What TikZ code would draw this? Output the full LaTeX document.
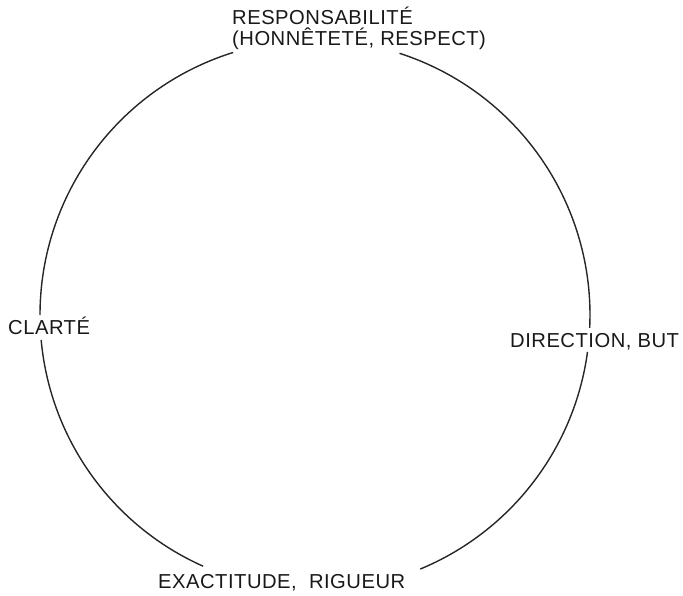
\documentclass[tikz,border=0pt]{standalone}
\usepackage{fontspec}
\setmainfont{Liberation Sans}[LetterSpace=2.5]
\begin{document}
\begin{tikzpicture}[x=1pt,y=1pt,
  lbl/.style={inner sep=0pt, anchor=base west, font=\fontsize{20.2}{21.5}\selectfont, text=black!90},
  ring/.style={line width=1.4pt, draw=black!85}]
\useasboundingbox (0,0) rectangle (683,595);
\coordinate (c) at (315,280);
\draw[ring] ([shift={(357.3:275)}]c) arc[start angle=357.3, end angle=432.1, radius=275];
\draw[ring] ([shift={(107.3:275)}]c) arc[start angle=107.3, end angle=180, radius=275];
\draw[ring] ([shift={(185.2:275)}]c) arc[start angle=185.2, end angle=246, radius=275];
\draw[ring] ([shift={(292.5:275)}]c) arc[start angle=292.5, end angle=352.3, radius=275];
\node[lbl, align=left] (resp) at (232,549) {RESPONSABILITÉ\\(HONNÊTETÉ, RESPECT)};
\node[lbl] (clarte) at (8,260) {CLARTÉ};
\node[lbl] (dir) at (510,247) {DIRECTION, BUT};
\node[lbl] (exact) at (158,7) {EXACTITUDE,\ \ RIGUEUR};
\end{tikzpicture}
\end{document}
